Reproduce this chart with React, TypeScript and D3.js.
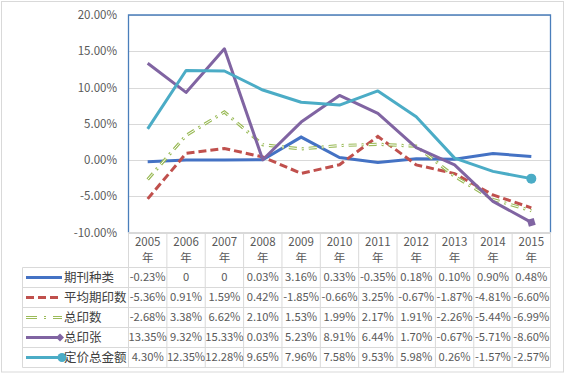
import React from "react";
import * as d3 from "d3";

const years = ["2005", "2006", "2007", "2008", "2009", "2010", "2011", "2012", "2013", "2014", "2015"];
const seriesNames = ["期刊种类", "平均期印数", "总印数", "总印张", "定价总金额"];
const s1 = [-0.23, 0, 0, 0.03, 3.16, 0.33, -0.35, 0.18, 0.1, 0.9, 0.48];
const s2 = [-5.36, 0.91, 1.59, 0.42, -1.85, -0.66, 3.25, -0.67, -1.87, -4.81, -6.6];
const s3 = [-2.68, 3.38, 6.62, 2.1, 1.53, 1.99, 2.17, 1.91, -2.26, -5.44, -6.99];
const s4 = [13.35, 9.32, 15.33, 0.03, 5.23, 8.91, 6.44, 1.7, -0.67, -5.71, -8.6];
const s5 = [4.3, 12.35, 12.28, 9.65, 7.96, 7.58, 9.53, 5.98, 0.26, -1.57, -2.57];
const labels1 = ["-0.23%", "0", "0", "0.03%", "3.16%", "0.33%", "-0.35%", "0.18%", "0.10%", "0.90%", "0.48%"];
const yTicks = [20, 15, 10, 5, 0, -5, -10];

const allSeries = [s1, s2, s3, s4, s5];
const colors = ["#4472C4", "#C0504D", "#9BBB59", "#8064A2", "#4BACC6"];

function fmt(v: number, i: number, si: number) {
  if (si === 0) return labels1[i];
  return v.toFixed(2) + "%";
}

export default function App() {
  const left = 128.5, right = 550.5, top = 15, bottom = 232.5;
  const legendLeft = 22.5;
  const rowTop = 267.5, rowH = 20;
  const x = d3.scaleBand<string>().domain(years).range([left, right]);
  const y = d3.scaleLinear().domain([-10, 20]).range([bottom, top]);
  const cx = (i: number) => (x(years[i]) as number) + x.bandwidth() / 2;
  const line = d3.line<number>().x((_, i) => cx(i)).y((d) => y(d));
  const font = "'Noto Sans CJK SC', 'Noto Sans', sans-serif";
  const textColor = "#595959";
  const grid = "#d9d9d9";

  const lastIdx = years.length - 1;
  const px = cx(lastIdx), py4 = y(s4[lastIdx]);
  const ang = (Math.atan2(py4 - y(s4[lastIdx - 1]), px - cx(lastIdx - 1)) * 180) / Math.PI;

  const legendKey = (si: number, ky: number) => {
    const x0 = 26, x1 = 62;
    if (si === 0) return <line x1={x0} x2={x1} y1={ky} y2={ky} stroke={colors[0]} strokeWidth={3} />;
    if (si === 1) return <line x1={x0} x2={x1} y1={ky} y2={ky} stroke={colors[1]} strokeWidth={3} strokeDasharray="8 4" />;
    if (si === 2)
      return (
        <g>
          <line x1={x0} x2={x1} y1={ky} y2={ky} stroke={colors[2]} strokeWidth={3} strokeDasharray="11 7 2 7" />
          <line x1={x0 - 1} x2={x1 + 1} y1={ky} y2={ky} stroke="#fff" strokeWidth={1} />
        </g>
      );
    if (si === 3)
      return (
        <g>
          <line x1={x0} x2={x1 - 3} y1={ky} y2={ky} stroke={colors[3]} strokeWidth={3} />
          <path d={`M${x1 - 6},${ky} l4,-4 l4,4 l-4,4 z`} fill={colors[3]} />
        </g>
      );
    return (
      <g>
        <line x1={x0} x2={x1} y1={ky} y2={ky} stroke={colors[4]} strokeWidth={3} />
        <circle cx={x1} cy={ky} r={4.5} fill={colors[4]} />
      </g>
    );
  };

  return (
    <svg width={566} height={375} style={{ position: "absolute", left: 0, top: 0, background: "#fff" }} fontFamily={font}>
      <rect x={1.5} y={1.5} width={562} height={370.5} fill="#fff" stroke="#d9d9d9" />
      {/* gridlines */}
      {yTicks.map((t) => (
        <line key={t} x1={left} x2={right} y1={Math.round(y(t)) + 0.5} y2={Math.round(y(t)) + 0.5} stroke={grid} strokeWidth={1} />
      ))}
      {/* y labels */}
      {yTicks.map((t) => (
        <text key={"l" + t} x={117} y={y(t)} dy="0.35em" textAnchor="end" fontSize={11.5} fill={textColor}>
          {t.toFixed(2) + "%"}
        </text>
      ))}
      {/* series lines */}
      <path d={line(s1) || ""} fill="none" stroke={colors[0]} strokeWidth={3} />
      <path d={line(s2) || ""} fill="none" stroke={colors[1]} strokeWidth={3} strokeDasharray="8 4" />
      <path d={line(s3) || ""} fill="none" stroke={colors[2]} strokeWidth={3.2} strokeDasharray="8 5 2 5" />
      <path d={line(s3) || ""} fill="none" stroke="#fff" strokeWidth={1} strokeDasharray="8 5 2 5" />
      <path d={line(s4) || ""} fill="none" stroke={colors[3]} strokeWidth={3} strokeLinejoin="round" />
      <path
        d={`M-5,0 L0,-5 L5,0 L0,5 Z`}
        transform={`translate(${px},${py4}) rotate(${ang})`}
        fill={colors[3]}
      />
      <path d={line(s5) || ""} fill="none" stroke={colors[4]} strokeWidth={3} strokeLinejoin="round" />
      <circle cx={px} cy={y(s5[lastIdx])} r={5} fill={colors[4]} />
      {/* plot border */}
      <path d={`M${left},${bottom} V${top} H${right} V${bottom}`} fill="none" stroke="#4a7ebb" strokeWidth={1.3} />
      {/* table lines */}
      <line x1={left} x2={right} y1={bottom} y2={bottom} stroke={grid} />
      {seriesNames.map((_, i) => null)}
      {[0, 1, 2, 3, 4, 5].map((r) => (
        <line key={"h" + r} x1={legendLeft} x2={right} y1={rowTop + r * rowH} y2={rowTop + r * rowH} stroke={grid} />
      ))}
      {years.map((yr, i) => (
        <line key={"v" + yr} x1={(x(yr) as number)} x2={(x(yr) as number)} y1={bottom} y2={rowTop + 5 * rowH} stroke={grid} />
      ))}
      <line x1={right} x2={right} y1={bottom} y2={rowTop + 5 * rowH} stroke={grid} />
      <line x1={legendLeft} x2={legendLeft} y1={rowTop} y2={rowTop + 5 * rowH} stroke={grid} />
      {/* headers */}
      {years.map((yr, i) => (
        <g key={"hd" + yr}>
          <text x={cx(i)} y={242} dy="0.35em" textAnchor="middle" fontSize={11.5} fill={textColor}>
            {yr}
          </text>
          <text x={cx(i)} y={258} dy="0.35em" textAnchor="middle" fontSize={11.5} fill={textColor}>
            年
          </text>
        </g>
      ))}
      {/* rows */}
      {allSeries.map((s, si) => {
        const ry = rowTop + si * rowH + rowH / 2;
        return (
          <g key={"r" + si}>
            {legendKey(si, ry)}
            <text x={64} y={ry} dy="0.35em" fontSize={12.5} fill="#404040">
              {seriesNames[si]}
            </text>
            {s.map((v, i) => (
              <text key={i} x={cx(i)} y={ry} dy="0.35em" textAnchor="middle" fontSize={11.2} fill={textColor}>
                {fmt(v, i, si)}
              </text>
            ))}
          </g>
        );
      })}
    </svg>
  );
}
